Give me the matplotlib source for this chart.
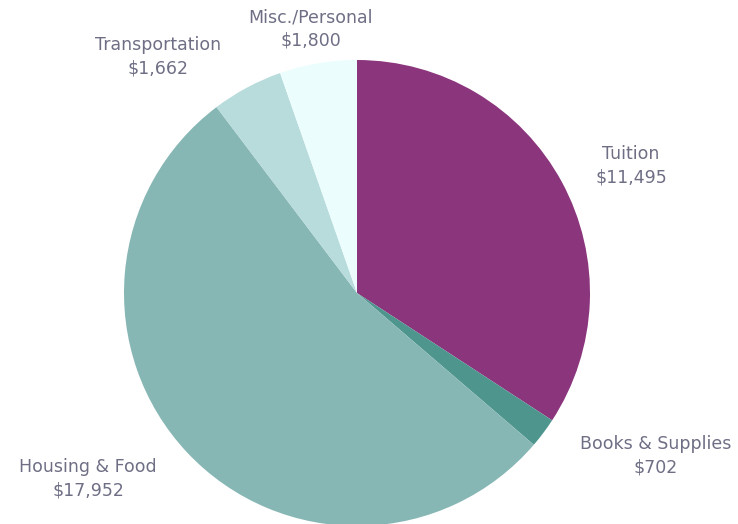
import matplotlib
matplotlib.use("Agg")
import matplotlib.pyplot as plt

categories = ["Tuition", "Books & Supplies", "Housing & Food", "Transportation", "Misc./Personal"]
values = [11495, 702, 17952, 1662, 1800]
value_labels = ["$11,495", "$702", "$17,952", "$1,662", "$1,800"]
colors = ["#8B357D", "#4E958E", "#87B7B5", "#B8DBDB", "#EBFDFD"]

# label anchor positions (pixels from top-left)
label_pos = [(631, 166), (656, 456), (88, 479), (158, 57), (311, 29)]

W, H = 738, 524
fig = plt.figure(figsize=(W / 100, H / 100), dpi=100)
ax = fig.add_axes([0, 0, 1, 1])

cx, cy, r = 357, H - 293, 233
ax.pie(values, colors=colors, startangle=90, counterclock=False,
       center=(cx, cy), radius=r, frame=True,
       wedgeprops=dict(linewidth=0))
ax.set_xlim(0, W)
ax.set_ylim(0, H)
ax.set_aspect("equal")
ax.axis("off")

for cat, vl, (px, py) in zip(categories, value_labels, label_pos):
    ax.text(px, H - py, f"{cat}\n{vl}", ha="center", va="center",
            fontsize=12.5, color="#6E6E85", family="DejaVu Sans",
            linespacing=1.4)

fig.savefig("out.png", dpi=100)
